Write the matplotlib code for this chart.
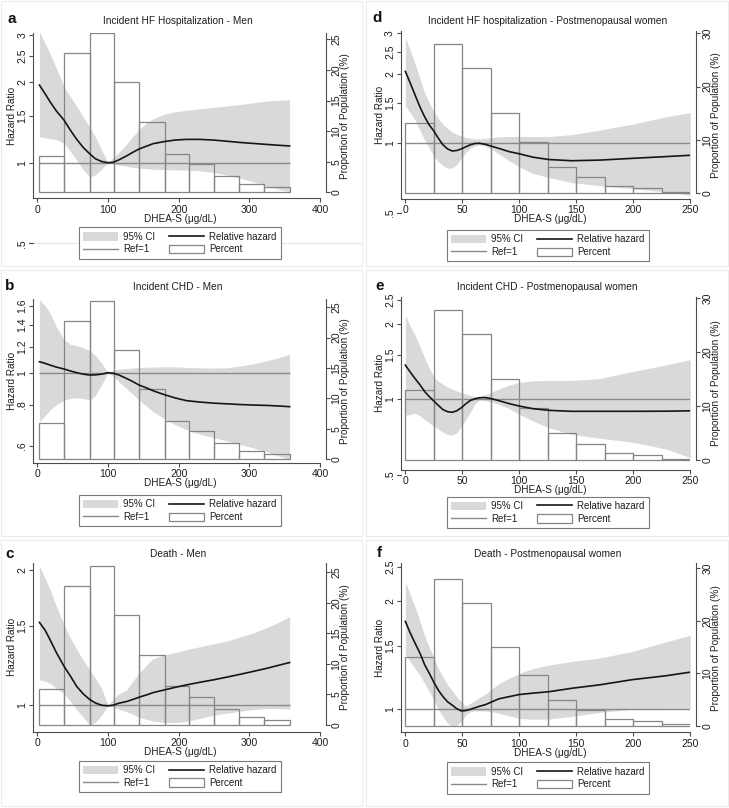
import numpy as np
import matplotlib
matplotlib.use("Agg")
import matplotlib.pyplot as plt
import matplotlib.transforms as mtransforms
from matplotlib.patches import Patch, Rectangle
from matplotlib.lines import Line2D
from matplotlib.ticker import FixedLocator, NullLocator, NullFormatter

plt.rcParams['font.family'] = ['Liberation Sans', 'DejaVu Sans']
plt.rcParams['font.size'] = 7

# ---------------- data ----------------
men_bin_edges = [3, 38, 74, 109, 144, 180, 215, 250, 286, 321, 357]
men_pct = [5.9, 22.7, 26.0, 18.0, 11.5, 6.3, 4.6, 2.6, 1.3, 0.8]
women_bin_edges = [0, 25, 50, 75, 100, 125, 150, 175, 200, 225, 250]
women_pct = [13.1, 27.9, 23.4, 15.0, 9.6, 5.0, 3.1, 1.4, 0.9, 0.3]

men_x = [3, 11, 18, 27, 38, 47, 56, 65, 74, 82, 91, 100, 107, 115, 126, 135, 144, 155, 164, 180,
         195, 211, 230, 249, 268, 287, 306, 325, 341, 357]
women_x = [0, 4, 8.5, 13, 17, 21, 25, 29, 33, 37, 41, 45, 49, 53, 57, 61, 65, 70, 76, 82,
           91, 100, 112, 126, 146, 170, 199, 228, 250]

# a: Incident HF hospitalization - Men
a_hr = [1.95, 1.81, 1.69, 1.56, 1.44, 1.32, 1.22, 1.14, 1.08, 1.035, 1.01, 1.0, 1.003, 1.023, 1.059,
        1.093, 1.125, 1.154, 1.178, 1.2, 1.215, 1.222, 1.222, 1.215, 1.203, 1.19, 1.18, 1.17, 1.162, 1.155]
a_lo = [1.25, 1.24, 1.23, 1.22, 1.18, 1.10, 1.02, 0.94, 0.885, 0.90, 0.945, 1.0, 0.99, 0.98, 0.97,
        0.96, 0.955, 0.95, 0.945, 0.942, 0.94, 0.938, 0.932, 0.92, 0.90, 0.875, 0.848, 0.815, 0.795, 0.78]
a_hi = [3.09, 2.79, 2.56, 2.25, 1.92, 1.76, 1.62, 1.48, 1.36, 1.25, 1.115, 1.0, 1.04, 1.09, 1.17,
        1.25, 1.33, 1.41, 1.46, 1.52, 1.55, 1.57, 1.59, 1.61, 1.63, 1.65, 1.675, 1.70, 1.71, 1.72]
# b: Incident CHD - Men
b_hr = [1.08, 1.068, 1.055, 1.04, 1.026, 1.012, 1.0, 0.99, 0.984, 0.985, 0.99, 1.0, 0.997, 0.985, 0.961,
        0.94, 0.917, 0.898, 0.881, 0.857, 0.838, 0.822, 0.814, 0.808, 0.804, 0.80, 0.797, 0.795, 0.792, 0.788]
b_lo = [0.709, 0.74, 0.77, 0.80, 0.825, 0.835, 0.839, 0.835, 0.825, 0.85, 0.92, 1.0, 0.975, 0.94, 0.896,
        0.86, 0.825, 0.79, 0.76, 0.725, 0.695, 0.67, 0.65, 0.635, 0.62, 0.605, 0.59, 0.574, 0.558, 0.544]
b_hi = [1.67, 1.60, 1.52, 1.38, 1.26, 1.22, 1.21, 1.19, 1.17, 1.13, 1.07, 1.0, 1.015, 1.025, 1.03,
        1.034, 1.036, 1.04, 1.04, 1.043, 1.042, 1.038, 1.035, 1.033, 1.035, 1.048, 1.065, 1.088, 1.11, 1.14]
# c: Death - Men
c_hr = [1.53, 1.47, 1.40, 1.31, 1.22, 1.16, 1.10, 1.06, 1.03, 1.012, 1.0, 0.997, 1.0, 1.01, 1.019,
        1.03, 1.042, 1.055, 1.067, 1.082, 1.096, 1.11, 1.125, 1.139, 1.155, 1.172, 1.19, 1.209, 1.227, 1.245]
c_lo = [1.14, 1.13, 1.12, 1.09, 1.06, 1.02, 0.976, 0.94, 0.904, 0.915, 0.95, 0.997, 0.99, 0.98, 0.968,
        0.955, 0.94, 0.93, 0.922, 0.915, 0.915, 0.92, 0.935, 0.95, 0.96, 0.97, 0.978, 0.983, 0.983, 0.98]
c_hi = [2.04, 1.92, 1.81, 1.66, 1.51, 1.41, 1.33, 1.26, 1.20, 1.15, 1.09, 1.0, 1.03, 1.06, 1.08,
        1.13, 1.18, 1.23, 1.27, 1.295, 1.31, 1.33, 1.35, 1.37, 1.39, 1.42, 1.45, 1.49, 1.53, 1.575]
# d: Incident HF hospitalization - Postmenopausal women
d_hr = [2.05, 1.84, 1.62, 1.43, 1.30, 1.20, 1.13, 1.05, 0.985, 0.945, 0.926, 0.93, 0.945, 0.965, 0.985,
        0.998, 1.0, 0.99, 0.97, 0.95, 0.92, 0.90, 0.87, 0.85, 0.84, 0.845, 0.86, 0.875, 0.887]
d_lo = [1.45, 1.36, 1.26, 1.13, 1.03, 0.95, 0.88, 0.83, 0.80, 0.78, 0.78, 0.81, 0.86, 0.91, 0.95,
        0.975, 0.985, 0.97, 0.94, 0.90, 0.84, 0.79, 0.74, 0.71, 0.675, 0.655, 0.635, 0.615, 0.595]
d_hi = [2.88, 2.55, 2.22, 1.90, 1.65, 1.50, 1.37, 1.28, 1.21, 1.16, 1.12, 1.095, 1.075, 1.06, 1.05,
        1.045, 1.045, 1.05, 1.06, 1.065, 1.07, 1.07, 1.07, 1.07, 1.09, 1.14, 1.21, 1.30, 1.36]
# e: Incident CHD - Postmenopausal women
e_hr = [1.37, 1.29, 1.21, 1.14, 1.073, 1.025, 0.985, 0.945, 0.91, 0.893, 0.888, 0.90, 0.925, 0.96, 0.99,
        1.005, 1.015, 1.017, 1.005, 0.988, 0.962, 0.94, 0.918, 0.904, 0.896, 0.896, 0.896, 0.897, 0.90]
e_lo = [0.866, 0.87, 0.88, 0.86, 0.83, 0.805, 0.78, 0.76, 0.74, 0.725, 0.72, 0.735, 0.78, 0.83, 0.89,
        0.96, 0.995, 0.99, 0.975, 0.955, 0.92, 0.87, 0.82, 0.77, 0.725, 0.70, 0.675, 0.635, 0.585]
e_hi = [2.17, 1.97, 1.80, 1.62, 1.46, 1.33, 1.23, 1.18, 1.15, 1.12, 1.10, 1.08, 1.065, 1.05, 1.035,
        1.025, 1.02, 1.04, 1.07, 1.10, 1.14, 1.17, 1.185, 1.19, 1.19, 1.21, 1.29, 1.37, 1.44]
# f: Death - Postmenopausal women
f_hr = [1.76, 1.64, 1.53, 1.43, 1.33, 1.26, 1.19, 1.13, 1.085, 1.05, 1.028, 1.005, 0.99, 0.992, 1.0,
        1.01, 1.02, 1.03, 1.05, 1.07, 1.085, 1.10, 1.11, 1.12, 1.145, 1.17, 1.21, 1.24, 1.27]
f_lo = [1.42, 1.36, 1.30, 1.24, 1.18, 1.12, 1.06, 1.0, 0.954, 0.915, 0.90, 0.905, 0.925, 0.965, 0.985,
        0.99, 0.99, 0.99, 0.985, 0.975, 0.96, 0.944, 0.938, 0.94, 0.955, 0.98, 1.0, 1.006, 1.006]
f_hi = [2.27, 2.10, 1.93, 1.75, 1.60, 1.49, 1.39, 1.30, 1.23, 1.17, 1.13, 1.085, 1.05, 1.02, 1.04,
        1.06, 1.08, 1.10, 1.14, 1.18, 1.22, 1.26, 1.30, 1.33, 1.36, 1.39, 1.45, 1.54, 1.61]

ref_hr = 1.0

men_xticks = [0, 100, 200, 300, 400]
women_xticks = [0, 50, 100, 150, 200, 250]
men_pct_ticks = [0, 5, 10, 15, 20, 25]
women_pct_ticks = [0, 10, 20, 30]

titles = ['Incident HF Hospitalization - Men', 'Incident CHD - Men', 'Death - Men',
          'Incident HF hospitalization - Postmenopausal women',
          'Incident CHD - Postmenopausal women', 'Death - Postmenopausal women']
letters = ['a', 'b', 'c', 'd', 'e', 'f']
hr_ticks = [[1, 1.5, 2, 2.5, 3], [0.6, 0.8, 1, 1.2, 1.4, 1.6], [1, 1.5, 2],
            [1, 1.5, 2, 2.5, 3], [1, 1.5, 2, 2.5], [1, 1.5, 2, 2.5]]
extra_hr_tick = [0.5, None, None, 0.5, 0.5, None]
legend_labels = ['95% CI', 'Ref=1', 'Relative hazard', 'Percent']
xlabel = 'DHEA-S (\u03bcg/dL)'
ylabel_left = 'Hazard Ratio'
ylabel_right = 'Proportion of Population (%)'

series = [
    (men_x, a_hr, a_lo, a_hi, men_bin_edges, men_pct, men_xticks, men_pct_ticks),
    (men_x, b_hr, b_lo, b_hi, men_bin_edges, men_pct, men_xticks, men_pct_ticks),
    (men_x, c_hr, c_lo, c_hi, men_bin_edges, men_pct, men_xticks, men_pct_ticks),
    (women_x, d_hr, d_lo, d_hi, women_bin_edges, women_pct, women_xticks, women_pct_ticks),
    (women_x, e_hr, e_lo, e_hi, women_bin_edges, women_pct, women_xticks, women_pct_ticks),
    (women_x, f_hr, f_lo, f_hi, women_bin_edges, women_pct, women_xticks, women_pct_ticks),
]

# ---------------- layout (pixels) ----------------
W, H, DPI = 729, 808, 100
geo = [
    dict(L=33, R=320, T=33, B=198.3, RS=325.5, xlim=(-6.1, 400), hrlim=(0.736, 3.053), pctlim=(-0.98, 26.03),
         title=(178, 20.7), letter=(7, 23), legend=(179.7, 243)),
    dict(L=33, R=320, T=299, B=462.7, RS=325.5, xlim=(-6.1, 400), hrlim=(0.532, 1.677), pctlim=(-0.61, 26.37),
         title=(178, 286.7), letter=(5, 290), legend=(179.7, 510.8)),
    dict(L=33, R=320, T=563, B=731.7, RS=325.5, xlim=(-6.1, 400), hrlim=(0.873, 2.075), pctlim=(-1.10, 26.51),
         title=(178, 554), letter=(5, 558), legend=(179.7, 776.7)),
    dict(L=400.7, R=690.3, T=31, B=199, RS=696.5, xlim=(-4.1, 250), hrlim=(0.573, 3.071), pctlim=(-1.07, 30.43),
         title=(547.5, 20.7), letter=(372, 22), legend=(548, 245.8)),
    dict(L=400.7, R=690.3, T=297, B=469.5, RS=696.5, xlim=(-4.1, 250), hrlim=(0.525, 2.561), pctlim=(-1.70, 30.24),
         title=(547.5, 286.7), letter=(375, 290), legend=(548, 512.5)),
    dict(L=400.7, R=690.3, T=563, B=732.3, RS=696.5, xlim=(-4.1, 250), hrlim=(0.863, 2.56), pctlim=(-1.2, 30.99),
         title=(547.5, 554), letter=(377, 557), legend=(548, 778)),
]

CI_COLOR = '#d9d9d9'
BAR_EDGE = '#858585'
REF_COLOR = '#8a8a8a'
HR_COLOR = '#151515'
SPINE = '#4d4d4d'
TXT = '#1e1e1e'
LEG_EDGE = '#7a7a7a'
TICK_FS = 7.5

fig = plt.figure(figsize=(W / DPI, H / DPI), dpi=DPI)
fig.patch.set_facecolor('white')


def fx(px):
    return px / W


def fy(py):
    return 1 - py / H


def fmt(v):
    s = ('%g' % v)
    if s.startswith('0.'):
        s = s[1:]
    return s


# faint panel frames
for x0, x1 in [(1, 362), (366, 728)]:
    for y0, y1 in [(1, 266), (270, 536), (540, 806)]:
        fig.add_artist(Rectangle((fx(x0), fy(y1)), (x1 - x0) / W, (y1 - y0) / H, transform=fig.transFigure,
                                 fill=False, edgecolor='#ececec', linewidth=0.8, zorder=0))

for i in range(6):
    x, hr, lo, hi, edges, pct, xt, pt = series[i]
    g = geo[i]
    L, R, T, B, RS = g['L'], g['R'], g['T'], g['B'], g['RS']
    rect = [fx(L), fy(B), (R - L) / W, (B - T) / H]

    ax = fig.add_axes(rect)
    ax.set_yscale('log')
    ax.fill_between(x, lo, hi, color=CI_COLOR, linewidth=0, zorder=1)

    ax2 = ax.twinx()
    edges_arr = np.array(edges, dtype=float)
    ax2.bar(edges_arr[:-1], pct, width=np.diff(edges_arr), align='edge', fill=False,
            edgecolor=BAR_EDGE, linewidth=0.9)

    ax3 = fig.add_axes(rect, sharex=ax, sharey=ax)
    ax3.set_axis_off()
    ax3.plot([x[0], x[-1]], [ref_hr, ref_hr], color=REF_COLOR, linewidth=1.0, solid_capstyle='butt')
    ax3.plot(x, hr, color=HR_COLOR, linewidth=1.2, solid_joinstyle='round')

    ax.set_zorder(1)
    ax2.set_zorder(2)
    ax3.set_zorder(3)
    ax2.patch.set_visible(False)

    # spines
    for s in ['top', 'right']:
        ax.spines[s].set_visible(False)
    for s in ['left', 'bottom']:
        ax.spines[s].set_color(SPINE)
        ax.spines[s].set_linewidth(0.8)
    for s in ['top', 'left', 'bottom']:
        ax2.spines[s].set_visible(False)
    ax2.spines['right'].set_color(SPINE)
    ax2.spines['right'].set_linewidth(0.8)
    ax2.spines['right'].set_position(('outward', (RS - R) * 72 / DPI))

    # ticks
    ax.xaxis.set_major_locator(FixedLocator(xt))
    ax.set_xticklabels([fmt(v) for v in xt])
    ax.yaxis.set_major_locator(FixedLocator(hr_ticks[i]))
    ax.yaxis.set_minor_locator(NullLocator())
    ax.yaxis.set_minor_formatter(NullFormatter())
    ax.set_yticklabels([fmt(v) for v in hr_ticks[i]], rotation=90, va='center')
    ax.tick_params(axis='both', direction='out', length=3, width=0.8, color=SPINE,
                   labelsize=TICK_FS, labelcolor=TXT)
    ax.tick_params(axis='y', pad=1.0)
    ax.tick_params(axis='x', pad=1.5)

    ax2.set_yticks(pt)
    ax2.set_yticklabels([fmt(v) for v in pt], rotation=90, va='center')
    ax2.tick_params(axis='y', direction='out', length=3, width=0.8, color=SPINE,
                    labelsize=TICK_FS, labelcolor=TXT, pad=1.2)

    # limits
    ax.set_xlim(g['xlim'])
    ax.set_ylim(g['hrlim'])
    ax2.set_ylim(g['pctlim'])
    ax2.spines['right'].set_bounds(0, g['pctlim'][1])

    # extra (out-of-range) .5 tick as drawn in the original
    if extra_hr_tick[i] is not None:
        v = extra_hr_tick[i]
        blend = mtransforms.blended_transform_factory(ax.transAxes, ax.transData)
        tl = 4.17 / (R - L)
        ax.plot([-tl, 0], [v, v], transform=blend, clip_on=False, color=SPINE, linewidth=0.8)
        ax.text(-(4.17 + 1.4) / (R - L), v, fmt(v), transform=blend, rotation=90, ha='right', va='center',
                fontsize=TICK_FS, color=TXT, clip_on=False)
        if i == 0:
            ax.plot([0, (362 - L) / (R - L)], [v, v], transform=blend, clip_on=False,
                    color='#e4e4e4', linewidth=0.8, zorder=0)
        ax.set_ylim(g['hrlim'])

    # axis labels
    ax.set_xlabel(xlabel, fontsize=7.2, color=TXT)
    ax.xaxis.set_label_coords(((L + RS) / 2 + 1.5 - L) / (R - L), -20.5 / (B - T))
    ax.xaxis.label.set_va('center')
    ax.set_ylabel(ylabel_left, fontsize=7.2, color=TXT)
    ax.yaxis.set_label_coords(-20.5 / (R - L), 0.5)
    ax.yaxis.label.set_va('center')
    ax.yaxis.label.set_ha('center')
    ax2.set_ylabel(ylabel_right, fontsize=7.2, color=TXT, rotation=90)
    ax2.yaxis.set_label_coords((RS + 20 - L) / (R - L), 0.5)
    ax2.yaxis.label.set_va('center')
    ax2.yaxis.label.set_ha('center')

    # title and panel letter
    fig.text(fx(g['title'][0]), fy(g['title'][1]), titles[i], ha='center', va='center', fontsize=7.3, color=TXT)
    fig.text(fx(g['letter'][0]), fy(g['letter'][1]), letters[i], ha='left', va='baseline', fontsize=11,
             fontweight='bold', color='#111111')

    # legend
    handles = [Patch(facecolor=CI_COLOR, edgecolor='none'),
               Line2D([], [], color=REF_COLOR, linewidth=1.0),
               Line2D([], [], color=HR_COLOR, linewidth=1.2),
               Patch(facecolor='white', edgecolor=BAR_EDGE, linewidth=0.9)]
    leg = fig.legend(handles, legend_labels, loc='center', bbox_to_anchor=(fx(g['legend'][0]), fy(g['legend'][1])),
                     ncol=2, frameon=True, fancybox=False, edgecolor=LEG_EDGE, framealpha=1, fontsize=7,
                     handlelength=3.6, handleheight=0.95, handletextpad=0.5, columnspacing=1.45,
                     labelspacing=0.27, borderpad=0.45, borderaxespad=0)
    leg.get_frame().set_linewidth(0.8)
    for t in leg.get_texts():
        t.set_color(TXT)

fig.savefig('out.png', dpi=DPI, facecolor='white')
